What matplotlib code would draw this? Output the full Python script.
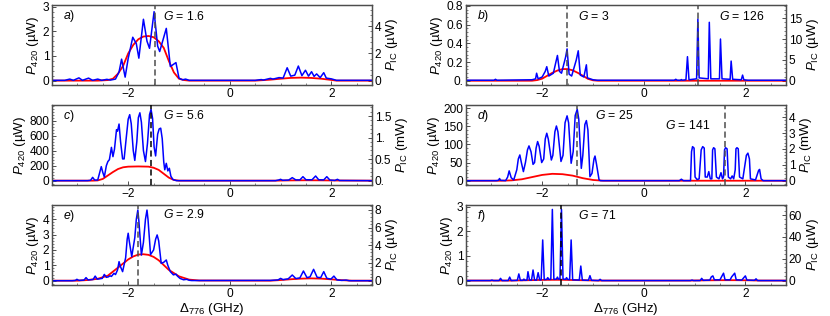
import matplotlib
matplotlib.use("Agg")
import matplotlib.pyplot as plt
from matplotlib.ticker import AutoMinorLocator

plt.rcParams['font.family'] = ['Liberation Sans', 'DejaVu Sans']
plt.rcParams['mathtext.fontset'] = 'custom'
plt.rcParams['mathtext.rm'] = 'Liberation Sans'
plt.rcParams['mathtext.it'] = 'Liberation Sans:italic'
plt.rcParams['mathtext.default'] = 'it'

# ---------------- data ----------------
# Panel a
a_blue_x = [-3.5, -3.25, -3.15, -3.08, -2.97, -2.9, -2.78, -2.7, -2.6, -2.52, -2.42, -2.35, -2.25, -2.18, -2.13,
            -2.06, -2.0, -1.91, -1.84, -1.79, -1.70, -1.63, -1.58, -1.49, -1.42, -1.38, -1.25, -1.17, -1.06, -1.0,
            -0.93, -0.87, -0.8, 0.5, 0.62, 0.66, 0.8, 0.85, 0.97, 1.05, 1.13, 1.2, 1.28, 1.35, 1.42, 1.49, 1.55,
            1.61, 1.66, 1.71, 1.78, 1.85, 1.9, 2.0, 2.1, 2.8]
a_blue_y = [0.01, 0.01, 0.06, 0.01, 0.11, 0.01, 0.1, 0.01, 0.06, 0.01, 0.05, 0.02, 0.06, 0.35, 0.87,
            0.14, 0.9, 1.76, 1.5, 0.91, 2.49, 1.6, 1.31, 2.80, 1.4, 1.18, 2.12, 0.57, 0.73, 0.1,
            0.03, 0.06, 0.01, 0.01, 0.04, 0.02, 0.09, 0.06, 0.12, 0.1, 0.52, 0.18, 0.22, 0.59, 0.2, 0.42, 0.18,
            0.36, 0.17, 0.27, 0.12, 0.32, 0.1, 0.07, 0.01, 0.01]
a_red_x = [-3.5, -2.6, -2.4, -2.3, -2.2, -2.1, -2.0, -1.9, -1.8, -1.7, -1.6, -1.5, -1.4, -1.3, -1.2, -1.1, -1.0,
           -0.9, -0.8, 0.5, 0.8, 1.0, 1.2, 1.4, 1.6, 1.8, 2.0, 2.1, 2.8]
a_red_y = [0, 0, 0.04, 0.14, 0.51, 1.08, 1.99, 2.62, 3.03, 3.23, 3.27, 3.18, 2.89, 2.40, 1.44, 0.60, 0.14,
           0.04, 0, 0, 0.07, 0.14, 0.2, 0.22, 0.2, 0.14, 0.05, 0, 0]

# Panel b
b_blue_x = [-3.5, -2.95, -2.92, -2.89, -2.2, -2.13, -2.11, -2.08, -2.0, -1.94, -1.91, -1.87, -1.78, -1.73, -1.70,
            -1.66, -1.62, -1.54, -1.51, -1.47, -1.42, -1.33, -1.29, -1.25, -1.18, -1.13, -1.11, -1.0, -0.92,
            0.6, 0.63, 0.66, 0.72, 0.74, 0.76, 0.83, 0.86, 0.89, 1.04, 1.065, 1.09, 1.27, 1.29, 1.32, 1.49, 1.51,
            1.54, 1.70, 1.72, 1.75, 1.92, 1.945, 1.97, 2.05, 2.8]
b_blue_y = [0.005, 0.005, 0.015, 0.005, 0.01, 0.02, 0.08, 0.02, 0.04, 0.1, 0.15, 0.05, 0.08, 0.2, 0.27,
            0.1, 0.08, 0.25, 0.34, 0.07, 0.05, 0.22, 0.32, 0.06, 0.04, 0.17, 0.03, 0.01, 0.005,
            0.005, 0.015, 0.005, 0.005, 0.012, 0.005, 0.01, 0.257, 0.01, 0.02, 0.66, 0.03, 0.02, 0.625, 0.02, 0.02, 0.446,
            0.02, 0.015, 0.21, 0.015, 0.01, 0.06, 0.01, 0.005, 0.005]
b_red_x = [-3.5, -2.2, -2.1, -2.0, -1.9, -1.8, -1.7, -1.6, -1.5, -1.4, -1.3, -1.2, -1.1, -1.0, -0.9, 2.8]
b_red_y = [0, 0, 0.15, 0.5, 1.2, 1.9, 2.45, 2.8, 2.8, 2.5, 1.9, 1.2, 0.45, 0.1, 0, 0]

# Panel c
c_blue_x = [-3.5, -2.8, -2.74, -2.70, -2.66, -2.60, -2.56, -2.53, -2.50, -2.47, -2.43, -2.40, -2.37, -2.33, -2.30,
            -2.27, -2.23, -2.21, -2.18, -2.15, -2.11, -2.08, -2.04, -2.00, -1.97, -1.94, -1.90, -1.87, -1.83,
            -1.80, -1.77, -1.74, -1.70, -1.66, -1.62, -1.58, -1.55, -1.52, -1.49, -1.46, -1.42, -1.39, -1.36,
            -1.33, -1.30, -1.28, -1.25, -1.22, -1.19, -1.16, -1.12, -1.05, 0.9, 0.97, 1.0, 1.04, 1.16, 1.23, 1.3,
            1.38, 1.44, 1.5, 1.62, 1.69, 1.75, 1.85, 1.91, 1.97, 2.07, 2.12, 2.16, 2.8]
c_blue_y = [0, 0, 5, 44, 8, 8, 110, 187, 110, 50, 200, 255, 280, 444, 320,
            420, 680, 660, 755, 520, 290, 290, 560, 820, 880, 760, 400, 270, 520,
            840, 905, 780, 400, 255, 500, 880, 950, 830, 450, 330, 620, 690, 700,
            560, 250, 145, 231, 130, 165, 60, 15, 0, 0, 10, 18, 5, 8, 40, 10,
            10, 53, 12, 12, 62, 12, 10, 53, 8, 3, 18, 2, 0]
c_red_x = [-3.5, -2.7, -2.6, -2.5, -2.4, -2.3, -2.2, -2.1, -2.0, -1.8, -1.6, -1.5, -1.4, -1.3, -1.2, -1.1, -1.0,
           0.9, 1.2, 1.5, 1.8, 2.1, 2.8]
c_red_y = [0, 0, 0.005, 0.04, 0.12, 0.2, 0.27, 0.31, 0.325, 0.33, 0.325, 0.3, 0.25, 0.16, 0.07, 0.016, 0,
           0, 0.006, 0.009, 0.007, 0.003, 0]

# Panel d
d_blue_x = [-3.5, -2.9, -2.86, -2.84, -2.82, -2.72, -2.68, -2.65, -2.61, -2.56, -2.50, -2.47, -2.44, -2.41, -2.37,
            -2.33, -2.29, -2.26, -2.22, -2.18, -2.15, -2.12, -2.09, -2.06, -2.01, -1.97, -1.94, -1.91, -1.88,
            -1.82, -1.79, -1.75, -1.72, -1.69, -1.63, -1.59, -1.55, -1.51, -1.48, -1.43, -1.39, -1.35, -1.31,
            -1.28, -1.23, -1.20, -1.16, -1.13, -1.10, -1.06, -1.02, -0.98, -0.96, -0.93, -0.88, -0.85,
            0.70, 0.74, 0.78, 0.92, 0.94, 0.96, 0.99, 1.01, 1.05, 1.09, 1.13, 1.16, 1.19, 1.21, 1.25, 1.28, 1.31,
            1.34, 1.355, 1.375, 1.40, 1.43, 1.48, 1.52, 1.55, 1.57, 1.59, 1.61, 1.64, 1.665, 1.71, 1.74, 1.77,
            1.80, 1.815, 1.835, 1.86, 1.885, 1.95, 2.02, 2.05, 2.08, 2.10, 2.20, 2.26, 2.28, 2.31, 2.35, 2.8]
d_blue_y = [0, 0, 1, 6, 1, 0, 10, 27, 8, 2, 30, 60, 71, 50, 25,
            50, 85, 96, 80, 45, 50, 90, 108, 95, 50, 60, 115, 131, 115,
            57, 70, 135, 151, 135, 53, 70, 160, 179, 160, 48, 80, 180, 197,
            170, 34, 70, 155, 166, 140, 11, 20, 60, 68, 45, 2, 0,
            0, 4, 0, 0, 80, 94, 90, 10, 3, 5, 85, 94, 90, 10, 10, 25, 5,
            5, 85, 91, 88, 10, 5, 22, 5, 10, 85, 91, 88, 10, 5, 13, 5,
            30, 88, 91, 88, 10, 5, 70, 76, 60, 5, 2, 28, 31, 5, 0, 0]
d_red_x = [-3.5, -2.8, -2.6, -2.4, -2.2, -2.0, -1.8, -1.6, -1.4, -1.2, -1.0, -0.8, 2.8]
d_red_y = [0, 0, 0.023, 0.091, 0.228, 0.365, 0.434, 0.411, 0.32, 0.16, 0.046, 0, 0]

# Panel e
e_blue_x = [-3.5, -3.1, -3.04, -3.01, -2.97, -2.87, -2.83, -2.79, -2.69, -2.65, -2.61, -2.51, -2.47, -2.43, -2.39,
            -2.36, -2.33, -2.28, -2.25, -2.21, -2.18, -2.15, -2.11, -2.05, -2.02, -2.0, -1.98, -1.93, -1.87,
            -1.84, -1.81, -1.79, -1.74, -1.70, -1.66, -1.63, -1.61, -1.56, -1.50, -1.46, -1.43, -1.40, -1.35,
            -1.30, -1.25, -1.22, -1.17, -1.11, -1.06, -1.03, -0.98, -0.91, -0.85, -0.8, -0.75,
            0.8, 0.95, 1.0, 1.05, 1.15, 1.23, 1.3, 1.38, 1.45, 1.52, 1.58, 1.65, 1.72, 1.79, 1.85, 1.91, 1.99,
            2.05, 2.11, 2.2, 2.29, 2.35, 2.8]
e_blue_y = [0, 0, 0.02, 0.09, 0.02, 0.04, 0.2, 0.05, 0.08, 0.3, 0.1, 0.15, 0.41, 0.22, 0.25,
            0.32, 0.28, 0.48, 0.4, 0.7, 1.24, 0.9, 0.59, 1.5, 2.7, 3.09, 2.6, 1.57, 2.8,
            4.0, 4.6, 3.9, 1.67, 2.5, 4.0, 4.6, 4.0, 1.7, 2.0, 2.7, 2.98, 2.6, 1.13,
            1.2, 1.35, 1.0, 0.59, 0.38, 0.43, 0.3, 0.15, 0.06, 0.09, 0.03, 0.01,
            0.02, 0.05, 0.15, 0.07, 0.12, 0.37, 0.14, 0.18, 0.63, 0.2, 0.25, 0.74, 0.22, 0.2, 0.59, 0.16, 0.1,
            0.3, 0.05, 0.02, 0.04, 0.0, 0.0]
e_red_x = [-3.5, -3.0, -2.8, -2.6, -2.4, -2.2, -2.0, -1.9, -1.8, -1.7, -1.6, -1.5, -1.4, -1.2, -1.0, -0.8, -0.6,
           0.8, 1.0, 1.2, 1.4, 1.6, 1.8, 2.0, 2.2, 2.4, 2.8]
e_red_y = [0, 0, 0.07, 0.21, 0.57, 1.48, 2.40, 2.74, 2.95, 2.99, 2.92, 2.69, 2.31, 1.22, 0.49, 0.12, 0.02,
           0, 0.07, 0.16, 0.23, 0.26, 0.23, 0.15, 0.06, 0, 0]

# Panel f
f_blue_x = [-3.5, -3.02, -2.99, -2.96, -2.85, -2.82, -2.79, -2.67, -2.64, -2.61, -2.49, -2.46, -2.43, -2.38, -2.36,
            -2.34, -2.30, -2.28, -2.25, -2.21, -2.18, -2.15, -2.11, -2.08, -2.05, -2.02, -1.99, -1.96, -1.91,
            -1.89, -1.87, -1.83, -1.80, -1.77, -1.72, -1.70, -1.68, -1.65, -1.62, -1.59, -1.54, -1.52, -1.50,
            -1.46, -1.43, -1.40, -1.27, -1.24, -1.21, -1.09, -1.06, -1.03, -0.89, -0.86, -0.83,
            0.92, 0.95, 0.98, 1.11, 1.14, 1.17, 1.30, 1.33, 1.36, 1.39, 1.50, 1.53, 1.57, 1.60, 1.70, 1.73,
            1.79, 1.82, 1.93, 1.97, 2.0, 2.03, 2.18, 2.21, 2.24, 2.8]
f_blue_y = [0, 0, 0.02, 0, 0, 0.09, 0, 0, 0.14, 0, 0.01, 0.27, 0.01, 0.01, 0.06,
            0.01, 0.02, 0.36, 0.02, 0.02, 0.43, 0.02, 0.02, 0.32, 0.03, 0.03, 1.65, 0.04, 0.05,
            0.12, 0.05, 0.05, 2.89, 0.05, 0.06, 0.14, 0.06, 0.06, 2.89, 0.06, 0.05, 0.12, 0.05,
            0.04, 1.65, 0.03, 0.02, 0.59, 0.02, 0.01, 0.2, 0.01, 0, 0.05, 0,
            0, 0.02, 0, 0, 0.09, 0.01, 0.02, 0.15, 0.19, 0.03, 0.03, 0.15, 0.3, 0.03, 0.03, 0.15,
            0.3, 0.03, 0.02, 0.12, 0.19, 0.02, 0.01, 0.07, 0, 0]
f_red_x = [-3.5, -2.6, -2.3, -2.0, -1.8, -1.6, -1.4, -1.1, -0.9, 0.9, 1.2, 1.5, 1.8, 2.1, 2.3, 2.8]
f_red_y = [0, 0, 0.3, 0.6, 0.7, 0.7, 0.5, 0.2, 0, 0, 0.2, 0.35, 0.35, 0.2, 0, 0]

# dashed marker positions and gain labels
a_marks, a_gain = [-1.48], ["1.6"]
b_marks, b_gain = [-1.51, 1.065], ["3", "126"]
c_marks, c_gain = [-1.55], ["5.6"]
d_marks, d_gain = [-1.31, 1.605], ["25", "141"]
e_marks, e_gain = [-1.81], ["2.9"]
f_marks, f_gain = [-1.62], ["71"]

x_ticks = [-2, 0, 2]
a_lticks, a_rticks = [0, 1, 2, 3], [0, 2, 4]
b_lticks, b_rticks = [0, 0.2, 0.4, 0.6, 0.8], [0, 5, 10, 15]
c_lticks, c_rticks = [0, 200, 400, 600, 800], [0, 0.5, 1, 1.5]
d_lticks, d_rticks = [0, 50, 100, 150, 200], [0, 1, 2, 3, 4]
e_lticks, e_rticks = [0, 1, 2, 3, 4], [0, 2, 4, 6, 8]
f_lticks, f_rticks = [0, 1, 2, 3], [0, 20, 40, 60]
b_llabels = ["0.", "0.2", "0.4", "0.6", "0.8"]
c_rlabels = ["0.", "0.5", "1.", "1.5"]

# ---------------- figure ----------------
W, H = 830, 316
fig = plt.figure(figsize=(W / 100, H / 100), dpi=100)

BLUE = '#0000ff'
RED = '#ff0000'
SPINE = '0.3'
FS = 8.6
LFS = 9.6
TFS = 8.8


def make_axes(x0, y0, x1, y1):
    return fig.add_axes([x0 / W, 1 - y1 / H, (x1 - x0) / W, (y1 - y0) / H])


panels = [
    ('a', (52, 5, 372, 85), (a_blue_x, a_blue_y), (a_red_x, a_red_y), (-0.18, 3.07), (-0.32, 5.54),
     a_lticks, a_rticks, None, None, 'µW', a_marks, a_gain, '0.3', [(-1.31, 2.6)]),
    ('b', (466, 5, 786, 85), (b_blue_x, b_blue_y), (b_red_x, b_red_y), (-0.046, 0.81), (-1.03, 18.2),
     b_lticks, b_rticks, b_llabels, None, 'µW', b_marks, b_gain, '0.3', [(-1.29, 0.69), (1.49, 0.69)]),
    ('c', (52, 105, 372, 185), (c_blue_x, c_blue_y), (c_red_x, c_red_y), (-58, 1009), (-0.101, 1.756),
     c_lticks, c_rticks, None, c_rlabels, 'mW', c_marks, c_gain, 'k', [(-1.31, 865)]),
    ('d', (466, 105, 786, 185), (d_blue_x, d_blue_y), (d_red_x, d_red_y), (-12, 209), (-0.27, 4.77),
     d_lticks, d_rticks, None, None, 'mW', d_marks, d_gain, '0.3', [(-0.96, 180), (0.42, 152)]),
    ('e', (52, 205, 372, 285), (e_blue_x, e_blue_y), (e_red_x, e_red_y), (-0.28, 4.93), (-0.49, 8.56),
     e_lticks, e_rticks, None, None, 'µW', e_marks, e_gain, '0.3', [(-1.31, 4.3)]),
    ('f', (466, 205, 786, 285), (f_blue_x, f_blue_y), (f_red_x, f_red_y), (-0.18, 3.07), (-4.06, 69.2),
     f_lticks, f_rticks, None, None, 'µW', f_marks, f_gain, 'k', [(-1.29, 2.63)]),
]

for (letter, box, blue, red, yl, yr, lt, rt, ll, rl, runit, marks, gains, mcol, tpos) in panels:
    ax = make_axes(*box)
    ax2 = ax.twinx()
    ax.set_zorder(ax2.get_zorder() + 1)
    ax.patch.set_visible(False)

    ax2.plot(red[0], red[1], color=RED, lw=1.3, solid_joinstyle='round')
    ax.plot(blue[0], blue[1], color=BLUE, lw=1.1, solid_joinstyle='round')
    for m in marks:
        ax.axvline(m, color=mcol, lw=1.1, ls=(0, (4, 2.2)), zorder=3)
    for g, (tx, ty) in zip(gains, tpos):
        ax.text(tx, ty, r'$G$ = ' + g, fontsize=TFS, ha='left', va='center')
    ax.text(0.035, 0.86, r'$' + letter + r'$)', transform=ax.transAxes, fontsize=TFS,
            ha='left', va='center')

    ax.set_xlim(-3.5, 2.8)
    ax.set_ylim(*yl)
    ax2.set_ylim(*yr)
    ax.set_xticks(x_ticks)
    ax.set_xticklabels(['\u22122', '0', '2'])
    ax.set_yticks(lt)
    if ll is not None:
        ax.set_yticklabels(ll)
    ax2.set_yticks(rt)
    if rl is not None:
        ax2.set_yticklabels(rl)
    for a_ in (ax, ax2):
        a_.tick_params(direction='in', length=3, width=0.7, labelsize=FS, pad=2, color=SPINE)
        a_.tick_params(which='minor', direction='in', length=1.5, width=0.5, color=SPINE)
        for s in a_.spines.values():
            s.set_color(SPINE)
            s.set_linewidth(0.9)
    ax.xaxis.set_minor_locator(AutoMinorLocator(4))
    ax.yaxis.set_minor_locator(AutoMinorLocator(5))
    ax2.yaxis.set_minor_locator(AutoMinorLocator(5))

    ax.set_ylabel(r'$P_{420}$ (µW)', fontsize=LFS, labelpad=1)
    ax2.set_ylabel(r'$P_{\mathrm{IC}}$ (' + runit + ')', fontsize=LFS, labelpad=2)
    if letter in ('e', 'f'):
        ax.set_xlabel(r'$\Delta_{776}$ (GHz)', fontsize=LFS, labelpad=1)

fig.savefig('out.png', dpi=100)
